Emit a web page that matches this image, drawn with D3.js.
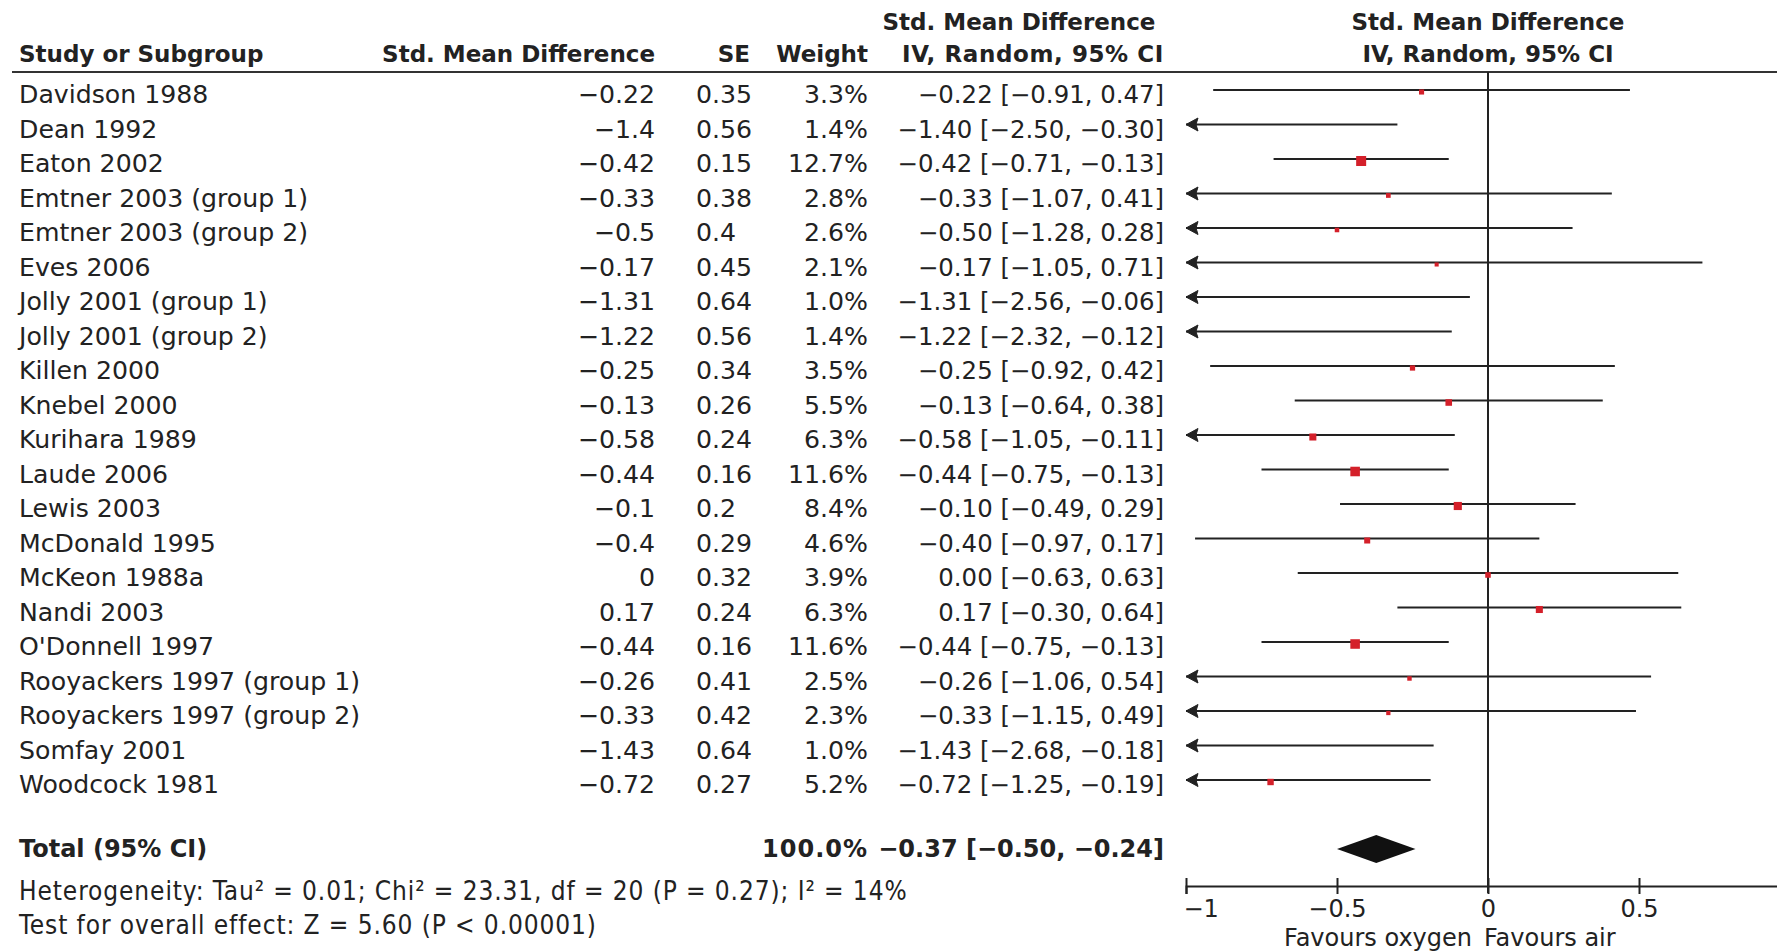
<!DOCTYPE html>
<html>
<head>
<meta charset="utf-8">
<script src="https://cdn.jsdelivr.net/npm/d3@7"></script>
<style>
  html, body { margin: 0; padding: 0; background: #fff; }
  svg { display: block; }
</style>
</head>
<body>
<script>
// ---------------- data ----------------
const studies = [
  "Davidson 1988", "Dean 1992", "Eaton 2002", "Emtner 2003 (group 1)", "Emtner 2003 (group 2)",
  "Eves 2006", "Jolly 2001 (group 1)", "Jolly 2001 (group 2)", "Killen 2000", "Knebel 2000",
  "Kurihara 1989", "Laude 2006", "Lewis 2003", "McDonald 1995", "McKeon 1988a",
  "Nandi 2003", "O'Donnell 1997", "Rooyackers 1997 (group 1)", "Rooyackers 1997 (group 2)",
  "Somfay 2001", "Woodcock 1981"
];
const smd = [-0.22, -1.4, -0.42, -0.33, -0.5, -0.17, -1.31, -1.22, -0.25, -0.13,
             -0.58, -0.44, -0.1, -0.4, 0, 0.17, -0.44, -0.26, -0.33, -1.43, -0.72];
const se = [0.35, 0.56, 0.15, 0.38, 0.4, 0.45, 0.64, 0.56, 0.34, 0.26,
            0.24, 0.16, 0.2, 0.29, 0.32, 0.24, 0.16, 0.41, 0.42, 0.64, 0.27];
const weight = [3.3, 1.4, 12.7, 2.8, 2.6, 2.1, 1.0, 1.4, 3.5, 5.5,
                6.3, 11.6, 8.4, 4.6, 3.9, 6.3, 11.6, 2.5, 2.3, 1.0, 5.2];
const ciLow = [-0.91, -2.50, -0.71, -1.07, -1.28, -1.05, -2.56, -2.32, -0.92, -0.64,
               -1.05, -0.75, -0.49, -0.97, -0.63, -0.30, -0.75, -1.06, -1.15, -2.68, -1.25];
const ciHigh = [0.47, -0.30, -0.13, 0.41, 0.28, 0.71, -0.06, -0.12, 0.42, 0.38,
                -0.11, -0.13, 0.29, 0.17, 0.63, 0.64, -0.13, 0.54, 0.49, -0.18, -0.19];
const total = { label: "Total (95% CI)", weight: 100.0, est: -0.37, low: -0.50, high: -0.24 };
const heterogeneity = "Heterogeneity: Tau\u00B2 = 0.01; Chi\u00B2 = 23.31, df = 20 (P = 0.27); I\u00B2 = 14%";
const overallTest = "Test for overall effect: Z = 5.60 (P < 0.00001)";
const tickValues = [-1, -0.5, 0, 0.5];
const tickLabels = ["\u22121", "\u22120.5", "0", "0.5"];
const favoursLeft = "Favours oxygen";
const favoursRight = "Favours air";

// ---------------- layout ----------------
const W = 1777, H = 951;
const FONT = "'DejaVu Sans', sans-serif";
const FS = 25.2;       // regular text
const FSB = 23;        // bold header text
const INK = "#222";
const RED = "#d4202a";

const minus = s => s.replace(/-/g, "\u2212");
const fmt2 = v => minus(v.toFixed(2));

const svg = d3.select("body").append("svg")
  .attr("width", W).attr("height", H)
  .style("font-family", FONT).style("font-size", FS + "px").attr("fill", INK);

const x = d3.scaleLinear().domain([-1, 1]).range([1186, 1790]);
const y = d3.scaleLinear().domain([0, 22]).range([90, 849]);   // line positions per row
const base = i => y(i) + 13;                                     // text baseline per row
const rows = d3.range(studies.length);

const col = { study: 19, smd: 655, se: 696, seHead: 750, weight: 868, ci: 1164 };

// headers
const hdr = svg.append("g").attr("font-weight", "bold").style("font-size", FSB + "px");
hdr.append("text").attr("x", col.study).attr("y", 62).text("Study or Subgroup");
hdr.append("text").attr("x", col.smd).attr("y", 62).attr("text-anchor", "end").text("Std. Mean Difference");
hdr.append("text").attr("x", col.seHead).attr("y", 62).attr("text-anchor", "end").text("SE");
hdr.append("text").attr("x", col.weight).attr("y", 62).attr("text-anchor", "end").text("Weight");
hdr.append("text").attr("x", 1019).attr("y", 30).attr("text-anchor", "middle").text("Std. Mean Difference");
hdr.append("text").attr("x", col.ci).attr("y", 62).attr("text-anchor", "end")
  .style("letter-spacing", "0.6px").text("IV, Random, 95% CI");
hdr.append("text").attr("x", x(0)).attr("y", 30).attr("text-anchor", "middle").text("Std. Mean Difference");
hdr.append("text").attr("x", x(0)).attr("y", 62).attr("text-anchor", "middle").text("IV, Random, 95% CI");

svg.append("line").attr("x1", 12).attr("x2", W).attr("y1", 72).attr("y2", 72)
  .attr("stroke", "#333").attr("stroke-width", 2.2);

// table rows
const tbl = svg.append("g");
tbl.selectAll("text.study").data(rows).join("text").attr("class", "study")
  .attr("x", col.study).attr("y", base).text(i => studies[i]);
tbl.selectAll("text.smd").data(rows).join("text").attr("class", "smd")
  .attr("x", col.smd).attr("y", base).attr("text-anchor", "end").text(i => minus(String(smd[i])));
tbl.selectAll("text.se").data(rows).join("text").attr("class", "se")
  .attr("x", col.se).attr("y", base).text(i => String(se[i]));
tbl.selectAll("text.wt").data(rows).join("text").attr("class", "wt")
  .attr("x", col.weight).attr("y", base).attr("text-anchor", "end").text(i => weight[i].toFixed(1) + "%");
tbl.selectAll("text.ci").data(rows).join("text").attr("class", "ci")
  .attr("x", col.ci).attr("y", base).attr("text-anchor", "end").style("font-size", "24.4px")
  .text(i => `${fmt2(smd[i])} [${fmt2(ciLow[i])}, ${fmt2(ciHigh[i])}]`);

// total row
const totalBase = base(22) - 5;
const tr = svg.append("g").attr("font-weight", "bold").style("font-size", "24px");
tr.append("text").attr("x", col.study).attr("y", totalBase).text(total.label);
tr.append("text").attr("x", col.weight).attr("y", totalBase).attr("text-anchor", "end")
  .style("letter-spacing", "1px").text(total.weight.toFixed(1) + "%");
tr.append("text").attr("x", col.ci).attr("y", totalBase).attr("text-anchor", "end")
  .text(`${fmt2(total.est)} [${fmt2(total.low)}, ${fmt2(total.high)}]`);

const condensed = "'DejaVu Sans Condensed', 'Liberation Sans Narrow', sans-serif";
svg.append("text").attr("x", col.study).attr("y", 900).text(heterogeneity)
  .style("font-family", condensed).style("font-size", "26px").style("letter-spacing", "0.9px");
svg.append("text").attr("x", col.study).attr("y", 934).text(overallTest)
  .style("font-family", condensed).style("font-size", "26px").style("letter-spacing", "0.9px");

// ---------------- plot ----------------
const plot = svg.append("g");
const [xmin, xmax] = x.domain();

// zero line
plot.append("line").attr("x1", x(0)).attr("x2", x(0)).attr("y1", 72).attr("y2", 893)
  .attr("stroke", INK).attr("stroke-width", 2);

// CI lines
plot.selectAll("line.ci").data(rows).join("line").attr("class", "ci")
  .attr("x1", i => x(Math.max(ciLow[i], xmin)))
  .attr("x2", i => x(Math.min(ciHigh[i], xmax)))
  .attr("y1", i => y(i)).attr("y2", i => y(i))
  .attr("stroke", INK).attr("stroke-width", 2.2);

// left arrows for truncated intervals
plot.selectAll("path.arrow").data(rows.filter(i => ciLow[i] < xmin)).join("path").attr("class", "arrow")
  .attr("d", i => { const x0 = x(xmin), yy = y(i);
    return `M${x0},${yy} L${x0 + 12},${yy - 6.5} L${x0 + 10},${yy} L${x0 + 12},${yy + 6.5} Z`; })
  .attr("fill", INK).attr("stroke", INK).attr("stroke-width", 1).attr("stroke-linejoin", "miter");

// squares (side proportional to sqrt(weight))
const side = d3.scaleSqrt().domain([0, 12.7]).range([0, 10]);
plot.selectAll("rect.pt").data(rows.filter(i => smd[i] >= xmin && smd[i] <= xmax)).join("rect").attr("class", "pt")
  .attr("x", i => x(smd[i]) - side(weight[i]) / 2)
  .attr("y", i => y(i) + 2 - side(weight[i]) / 2)
  .attr("width", i => side(weight[i])).attr("height", i => side(weight[i]))
  .attr("fill", RED);

// diamond
const yt = y(22);
plot.append("path")
  .attr("d", `M${x(total.low)},${yt} L${x(total.est)},${yt - 14} L${x(total.high)},${yt} L${x(total.est)},${yt + 14} Z`)
  .attr("fill", "#111");

// axis
const axisY = 886;
const ax = svg.append("g").attr("transform", `translate(0,${axisY})`)
  .call(d3.axisBottom(x).tickValues(tickValues).tickSizeOuter(0).tickSize(8).tickPadding(6)
    .tickFormat((d, k) => tickLabels[k]));
ax.select(".domain").attr("stroke", INK).attr("stroke-width", 2);
ax.selectAll(".tick line").attr("y1", -8).attr("y2", 8).attr("stroke", INK).attr("stroke-width", 2);
ax.selectAll(".tick text").attr("font-size", 24).attr("font-family", FONT).attr("fill", INK)
  .attr("y", 0).attr("dy", 31)
  .attr("text-anchor", d => d === xmin ? "start" : "middle")
  .attr("dx", d => d === xmin ? -3 : 0);

svg.append("text").attr("x", x(0) - 16).attr("y", 946).attr("text-anchor", "end")
  .style("font-size", "24px").text(favoursLeft);
svg.append("text").attr("x", x(0) - 4).attr("y", 946)
  .style("font-size", "24px").text(favoursRight);
</script>
</body>
</html>
